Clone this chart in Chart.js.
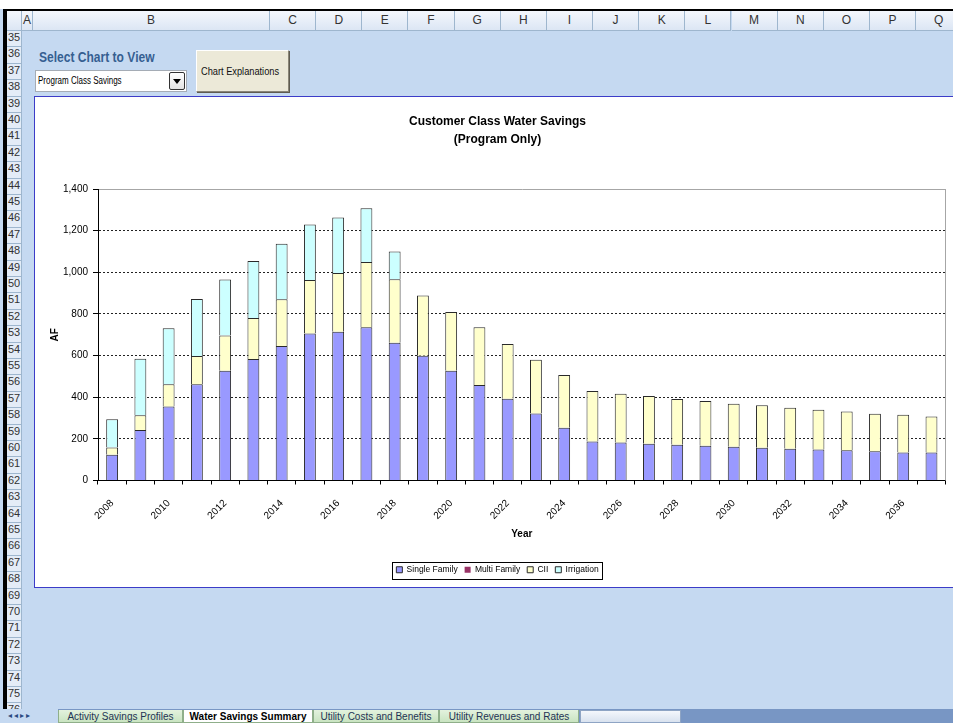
<!DOCTYPE html>
<html>
<head>
<meta charset="utf-8">
<title>Customer Class Water Savings</title>
<script src="https://cdn.jsdelivr.net/npm/chart.js@4.4.0/dist/chart.umd.min.js"></script>
<style>
  body { margin: 0; width: 953px; height: 723px; overflow: hidden; position: relative;
         background: #C5D9F1; font-family: 'Liberation Sans', Arial, sans-serif; }
  .abs { position: absolute; box-sizing: border-box; }
  .narrow { transform-origin: 0 50%; white-space: nowrap; }
  .colhdr { top: 11px; height: 20px; background: linear-gradient(#F4F7FC, #DCE6F4); border-right: 1px solid #9EB6CE;
            border-bottom: 1px solid #9EB6CE; font-size: 12px; color: #333; text-align: center; line-height: 19px; }
  .rowhdr { left: 7px; width: 15px; background: #E4ECF7; border-bottom: 1px solid #9EB6CE; border-right: 1px solid #9EB6CE;
            font-size: 11px; color: #333; padding-left: 1px; overflow: hidden; }
  .tab { top: 710px; height: 13px; font-size: 10px; line-height: 13px; text-align: center; color: #1F3355; white-space: nowrap;
         background: linear-gradient(#E3F2DE, #C9E4C1); border: 1px solid #8FAF8A; border-top: none; overflow: hidden; }
</style>
</head>
<body>
<div class="abs" style="left:0;top:0;width:953px;height:9px;background:#fff;"></div>
<div class="abs" style="left:5px;top:9px;width:948px;height:2px;background:#000;"></div>
<div class="abs" style="left:3px;top:9px;width:4px;height:701px;background:#000;"></div>
<div id="headers"></div>

<div class="abs narrow" style="left:39px;top:49px;font-weight:bold;font-size:14px;color:#365F91;transform:scaleX(0.86);">Select Chart to View</div>
<div class="abs" style="left:35px;top:70px;width:152px;height:22px;background:#fff;border:1px solid #A5ACB5;"></div>
<div class="abs narrow" style="left:38px;top:70px;height:22px;font-size:10px;line-height:22px;transform:scaleX(0.8);">Program Class Savings</div>
<div class="abs" style="left:169px;top:72px;width:16px;height:18px;background:linear-gradient(#fff,#E3E3E3);border:1px solid #333;border-radius:2px;"></div>
<div class="abs" style="left:173px;top:79px;width:0;height:0;border-left:4px solid transparent;border-right:4px solid transparent;border-top:5px solid #000;"></div>
<div class="abs" style="left:196px;top:50px;width:93px;height:42px;background:#ECE9D8;border:1px solid #fff;border-right-color:#8A8678;border-bottom-color:#8A8678;box-shadow:1px 1px 0 #5E5B50;"></div>
<div class="abs narrow" style="left:201px;top:50px;height:42px;font-size:11px;line-height:42px;color:#111;transform:scaleX(0.84);">Chart Explanations</div>

<div class="abs" style="left:34px;top:96px;width:925px;height:492px;background:#fff;border:1px solid #3C3CC8;">
  <canvas id="chart" width="918" height="489" style="position:absolute;left:0;top:0;"></canvas>
</div>

<div class="abs" style="left:0;top:709px;width:953px;height:14px;background:#7896C4;"></div>
<div class="abs" style="left:0;top:709px;width:58px;height:14px;background:#C5D9F1;font-size:8px;line-height:14px;color:#2B4A80;padding-left:8px;letter-spacing:2px;">◂◂▸▸</div>
<div class="tab abs" style="left:58px;width:125px;">Activity Savings Profiles</div>
<div class="tab abs" style="left:183px;width:130px;background:#fff;color:#000;font-weight:bold;">Water Savings Summary</div>
<div class="tab abs" style="left:313px;width:126px;">Utility Costs and Benefits</div>
<div class="tab abs" style="left:439px;width:140px;">Utility Revenues and Rates</div>
<div class="abs" style="left:580px;top:710px;width:101px;height:13px;background:linear-gradient(#F4F7FC,#D9E2EF);border:1px solid #8EA4C4;"></div>

<script>
// categories and series (AF per year)
const years = ['2008', '2009', '2010', '2011', '2012', '2013', '2014', '2015', '2016', '2017',
               '2018', '2019', '2020', '2021', '2022', '2023', '2024', '2025', '2026', '2027',
               '2028', '2029', '2030', '2031', '2032', '2033', '2034', '2035', '2036', '2037'];
const shownYears = ['2008', '2010', '2012', '2014', '2016', '2018', '2020', '2022',
                    '2024', '2026', '2028', '2030', '2032', '2034', '2036'];
const singleFamily = [124, 243, 356, 462, 527, 583, 646, 706, 715, 736,
                      662, 599, 527, 459, 393, 322, 253, 187, 182, 177,
                      172, 167, 162, 157, 153, 149, 145, 140, 135, 135];
const multiFamily = [0, 0, 0, 0, 0, 0, 0, 0, 0, 0,
                     0, 0, 0, 0, 0, 0, 0, 0, 0, 0,
                     0, 0, 0, 0, 0, 0, 0, 0, 0, 0];
const cii = [35, 70, 106, 136, 169, 198, 224, 257, 281, 313,
             305, 290, 282, 277, 263, 258, 254, 243, 235, 229,
             220, 215, 207, 204, 197, 191, 186, 181, 181, 172];
const irrigation = [135, 272, 269, 274, 269, 273, 267, 266, 267, 259,
                    133, 0, 0, 0, 0, 0, 0, 0, 0, 0,
                    0, 0, 0, 0, 0, 0, 0, 0, 0, 0];
const yTicks = [0, 200, 400, 600, 800, 1000, 1200, 1400];

// spreadsheet headers
const columns = [['A', 22, 11], ['B', 33, 237]];
'CDEFGHIJKLMNOPQ'.split('').forEach((c, i) => columns.push([c, 270 + i * 46.15, 46.15]));
let html = '<div class="abs colhdr" style="left:7px;width:15px;"></div>';
columns.forEach(c => {
  html += '<div class="abs colhdr" style="left:' + c[1] + 'px;width:' + c[2] + 'px;' +
          (c[0] === 'A' ? 'text-align:left;padding-left:1px;' : '') + '">' + c[0] + '</div>';
});
for (let r = 35; r <= 76; r++) {
  html += '<div class="abs rowhdr" style="top:' + (31 + (r - 35) * 16.4) + 'px;height:16.4px;">' + r + '</div>';
}
document.getElementById('headers').innerHTML = html;

Chart.defaults.font.family = "'Liberation Sans', Arial, sans-serif";
Chart.defaults.color = '#000';

const plotFrame = {
  id: 'plotFrame',
  beforeDatasetsDraw(chart) {
    const a = chart.chartArea, c = chart.ctx;
    c.save();
    c.strokeStyle = '#A6A6A6';
    c.lineWidth = 1;
    c.beginPath();
    c.moveTo(Math.round(a.right) - 0.5, a.top);
    c.lineTo(Math.round(a.right) - 0.5, a.bottom);
    c.stroke();
    c.restore();
  }
};

const legendBox = {
  id: 'legendBox',
  afterDraw(chart) {
    const boxes = chart.legend.legendHitBoxes;
    if (!boxes || !boxes.length) return;
    const l = Math.min(...boxes.map(b => b.left)) - 4;
    const r = Math.max(...boxes.map(b => b.left + b.width)) + 4;
    const t = boxes[0].top - 4;
    const b = boxes[0].top + boxes[0].height + 4;
    const c = chart.ctx;
    c.save();
    c.strokeStyle = '#000';
    c.lineWidth = 1;
    c.strokeRect(Math.round(l) + 0.5, Math.round(t) + 0.5, Math.round(r - l), Math.round(b - t));
    c.restore();
  }
};

new Chart(document.getElementById('chart'), {
  type: 'bar',
  data: {
    labels: years,
    datasets: [
      { label: 'Single Family', data: singleFamily, backgroundColor: '#9999FF' },
      { label: 'Multi Family', data: multiFamily, backgroundColor: '#993366' },
      { label: 'CII', data: cii, backgroundColor: '#FFFFCC' },
      { label: 'Irrigation', data: irrigation, backgroundColor: '#CCFFFF' }
    ]
  },
  options: {
    responsive: false,
    animation: false,
    datasets: {
      bar: {
        borderColor: '#2A2A2A',
        borderWidth: function (ctx) { return ctx.raw === 0 ? 0 : 1; },
        borderSkipped: 'start', barPercentage: 0.42, categoryPercentage: 1
      }
    },
    layout: { padding: { left: 9, right: 2, top: 0, bottom: 2 } },
    plugins: {
      title: {
        display: true,
        text: ['Customer Class Water Savings', '(Program Only)'],
        color: '#000',
        font: { size: 12, weight: 'bold', lineHeight: 1.5 },
        padding: { top: 16, bottom: 40 }
      },
      legend: {
        position: 'bottom',
        labels: { boxWidth: 6, boxHeight: 6, padding: 7, color: '#000', font: { size: 8.5 } }
      },
      tooltip: { enabled: false }
    },
    scales: {
      x: {
        stacked: true,
        grid: { display: true, drawOnChartArea: false, drawTicks: true, tickLength: 4, color: '#000', offset: true },
        border: { color: '#000', width: 1 },
        ticks: {
          autoSkip: false, minRotation: 45, maxRotation: 45, padding: 13, font: { size: 10 },
          callback: function (v, i) { return shownYears.includes(years[i]) ? years[i] : ''; }
        },
        title: { display: true, text: 'Year', font: { size: 10, weight: 'bold' }, padding: { top: 0, bottom: 18 } },
        afterFit: function (scale) { scale.height = 78; }
      },
      y: {
        stacked: true,
        min: yTicks[0],
        max: yTicks[yTicks.length - 1],
        afterBuildTicks: function (scale) { scale.ticks = yTicks.map(v => ({ value: v })); },
        ticks: { padding: 5, font: { size: 10 } },
        grid: {
          tickLength: 5,
          tickColor: '#000',
          color: function (ctx) {
            if (ctx.tick.value === 0) return 'rgba(0,0,0,0)';
            return ctx.tick.value === 1400 ? '#A6A6A6' : '#222';
          }
        },
        border: {
          color: '#000',
          dash: function (ctx) { return ctx.tick && ctx.tick.value === 1400 ? [] : [2, 2]; }
        },
        title: { display: true, text: 'AF', font: { size: 10, weight: 'bold' }, padding: { top: 5, bottom: 0 } },
        afterFit: function (scale) { scale.width = 54; }
      }
    }
  },
  plugins: [plotFrame, legendBox]
});
</script>
</body>
</html>
